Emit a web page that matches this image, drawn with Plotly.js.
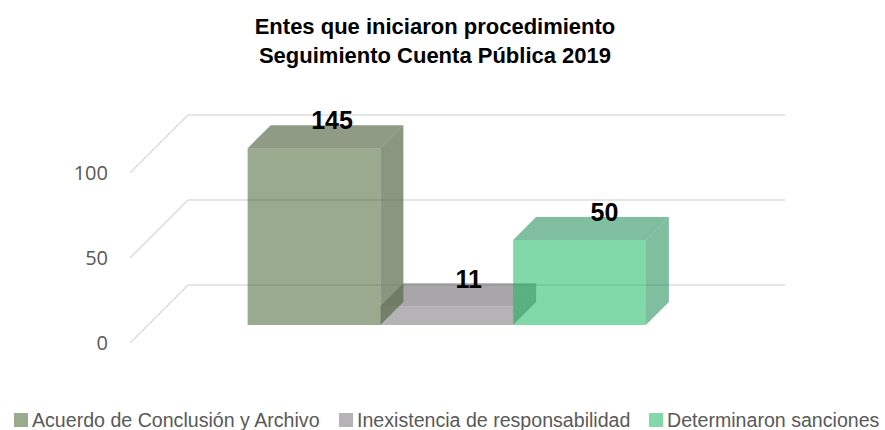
<!DOCTYPE html>
<html><head><meta charset="utf-8">
<script src="https://cdn.plot.ly/plotly-3.0.1.min.js"></script>
<style>html,body{margin:0;padding:0;background:#fff}#c{width:885px;height:430px}</style>
</head><body><div id="c"></div>
<script>
// data
const categories = ["Acuerdo de Conclusión y Archivo","Inexistencia de responsabilidad","Determinaron sanciones"];
const values = [145, 11, 50];
const tickValues = [0, 50, 100];
const axisCap = 104;            // the tallest bar is cut off at the top of the value axis

// style
const frontColors = ["rgba(71,100,50,.55)","rgba(120,117,120,.55)","rgba(26,184,97,.55)"];
const topColors   = ["rgba(51,73,33,.55)","rgba(97,93,97,.55)","rgba(22,137,79,.55)"];
const sideColors  = ["rgba(88,105,74,.7)","rgba(97,93,97,.55)","rgba(22,137,79,.55)"];
const keyColors   = ["#9AAA8E","#B5B3B5","#81D8A8"];
const gridColor = "#DCDCDC";
const labelDX = [18,22,25];
const keyLeft = [14,339,649], keyTextLeft = [32,357,667];

// scales: plot area spans L..W px wide and the full height
const W=885,H=430,L=109, pxPerCat=132.75, pxPerUnit=1.7, cat0Px=314, base0Px=325, tick0Px=343;
const xRange=[(L-cat0Px)/pxPerCat,(W-cat0Px)/pxPerCat];
const yRange=[(base0Px-H)/pxPerUnit, base0Px/pxPerUnit];
const y2Range=[(tick0Px-H)/pxPerUnit, tick0Px/pxPerUnit];
const barDX=23/pxPerCat, barDY=23/pxPerUnit;
const wallDX=58/pxPerCat, wallDY=58/pxPerUnit;
const wallL=(130-cat0Px)/pxPerCat, wallR=(785-cat0Px)/pxPerCat;
const heights=values.map(v=>Math.min(v,axisCap));

function topFace(i){const h=heights[i],a=i-.5,b=i+.5;return {x:[a,b,b+barDX,a+barDX,a],y:[h,h,h+barDY,h+barDY,h]};}
function sideFace(i){const h=heights[i],b=i+.5;return {x:[b,b+barDX,b+barDX,b,b],y:[0,barDY,h+barDY,h,0]};}
function path(f){return f.x.map((v,k)=>(k?"L":"M")+v+","+f.y[k]).join(" ")+" Z";}

const shapes=[];
tickValues.forEach(t=>shapes.push({type:"line",layer:"below",xref:"x",yref:"y2",
  x0:wallL+wallDX,x1:wallR,y0:t+wallDY,y1:t+wallDY,line:{color:gridColor,width:1.5}}));
// the middle bar's depth faces sit behind the neighbouring bars
shapes.push({type:"path",layer:"below",xref:"x",yref:"y",path:path(topFace(1)),fillcolor:topColors[1],line:{width:0}});
shapes.push({type:"path",layer:"below",xref:"x",yref:"y",path:path(sideFace(1)),fillcolor:sideColors[1],line:{width:0}});
// legend keys
categories.forEach((c,i)=>shapes.push({type:"rect",xref:"paper",yref:"paper",
  x0:keyLeft[i]/W,x1:(keyLeft[i]+14)/W,y0:1-427/H,y1:1-413/H,fillcolor:keyColors[i],line:{width:0}}));

const traces=[];
categories.forEach((c,i)=>traces.push({type:"bar",name:c,x:[i],y:[heights[i]],width:1,
  marker:{color:frontColors[i],line:{width:0}},hoverinfo:"name",showlegend:false}));
[0,2].forEach(i=>{
  [[topFace(i),topColors[i]],[sideFace(i),sideColors[i]]].forEach(([f,col])=>traces.push({
    type:"scatter",mode:"lines",x:f.x,y:f.y,fill:"toself",fillcolor:col,line:{width:0},
    showlegend:false,hoverinfo:"skip"}));
});
tickValues.forEach(t=>traces.push({type:"scatter",mode:"lines",x:[wallL,wallL+wallDX],y:[t,t+wallDY],yaxis:"y2",
  line:{color:gridColor,width:1.5},showlegend:false,hoverinfo:"skip"}));
traces.push({type:"scatter",mode:"text",x:values.map((v,i)=>i+labelDX[i]/pxPerCat),y:heights.map(h=>h+25/pxPerUnit),
  text:values.map(String),textposition:"middle center",
  textfont:{family:"Liberation Sans",size:25,color:"#000",weight:700},showlegend:false,hoverinfo:"skip",cliponaxis:false});

const annotations=categories.map((c,i)=>({text:c,xref:"paper",yref:"paper",x:(keyTextLeft[i]-1)/W,y:1-420/H,
  xanchor:"left",yanchor:"middle",showarrow:false,borderpad:0,
  font:{family:"Liberation Sans",size:19.6,color:"#595959"}}));

const layout={width:W,height:H,paper_bgcolor:"#fff",plot_bgcolor:"rgba(0,0,0,0)",showlegend:false,
  margin:{l:0,r:0,t:0,b:0,autoexpand:false},barmode:"overlay",
  title:{text:"<b>Entes que iniciaron procedimiento<br>Seguimiento Cuenta Pública 2019</b>",
    x:435/W,xref:"container",xanchor:"center",y:1-34/H,yref:"container",yanchor:"top",
    font:{family:"Liberation Sans",size:22,color:"#000"}},
  xaxis:{domain:[L/W,1],range:xRange,visible:false,fixedrange:true},
  yaxis:{range:yRange,visible:false,fixedrange:true},
  yaxis2:{range:y2Range,overlaying:"y",side:"left",anchor:"x",tickmode:"array",tickvals:tickValues,ticks:"",
    showgrid:false,zeroline:false,showline:false,fixedrange:true,
    tickfont:{family:"Open Sans",size:20,color:"#595959"}},
  annotations:annotations,
  shapes:shapes};
Plotly.newPlot("c",traces,layout,{displayModeBar:false,responsive:false});
</script></body></html>
